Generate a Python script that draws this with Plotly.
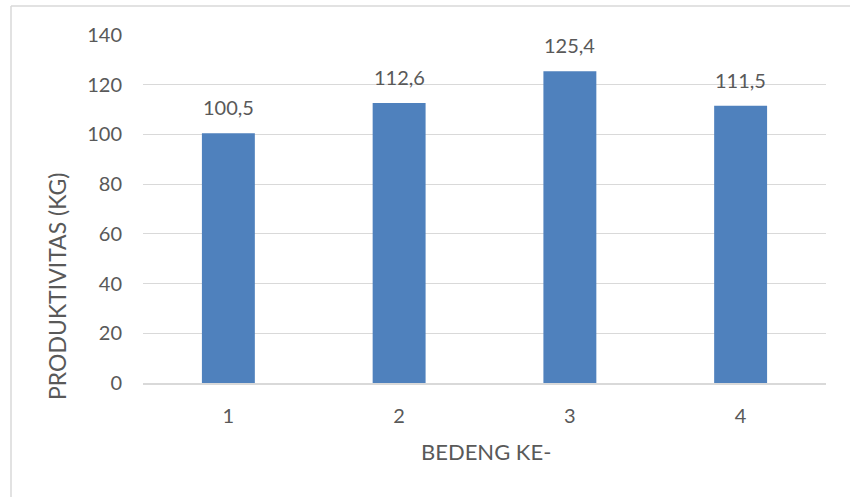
import plotly.graph_objects as go

categories = ["1", "2", "3", "4"]
values = [100.5, 112.6, 125.4, 111.5]
value_labels = ["100,5", "112,6", "125,4", "111,5"]
y_ticks = [0, 20, 40, 60, 80, 100, 120, 140]

FONT = "Lato"
TXT = "#595959"
GRID = "#d9d9d9"

fig = go.Figure()
fig.add_trace(go.Bar(x=categories, y=values, marker_color="#4f81bd",
                     marker_line_width=0, width=0.31))

for i, (v, t) in enumerate(zip(values, value_labels)):
    fig.add_annotation(x=i, y=v, text=t, showarrow=False, yanchor="bottom",
                       yshift=12, font=dict(family=FONT, size=20, color=TXT))

fig.add_annotation(xref="paper", yref="paper", x=(57 - 143) / 683, y=(383 - 287) / 348,
                   text="PRODUKTIVITAS (KG)", textangle=-90, showarrow=False,
                   xanchor="center", yanchor="middle",
                   font=dict(family=FONT, size=23, color=TXT))
fig.add_annotation(xref="paper", yref="paper", x=(486 - 143) / 683, y=(383 - 451) / 348,
                   text="BEDENG KE-", showarrow=False,
                   xanchor="center", yanchor="middle",
                   font=dict(family=FONT, size=22, color=TXT))

# chart border (left and top edges visible)
fig.add_shape(type="line", xref="paper", yref="paper",
              x0=(11 - 143) / 683, x1=(11 - 143) / 683, y0=1.0833, y1=-0.4,
              line=dict(color=GRID, width=1.5))
fig.add_shape(type="line", xref="paper", yref="paper",
              x0=(11 - 143) / 683, x1=1.1, y0=1.0833, y1=1.0833,
              line=dict(color=GRID, width=1.5))

fig.update_layout(
    width=850, height=497,
    margin=dict(l=143, r=24, t=35, b=114),
    plot_bgcolor="white", paper_bgcolor="white",
    showlegend=False,
    font=dict(family=FONT, size=20, color=TXT),
)
fig.update_xaxes(type="category", range=[-0.5, 3.5], showgrid=False, showline=True,
                 linecolor=GRID, linewidth=2, ticks="",
                 tickfont=dict(family=FONT, size=20, color=TXT), ticklabelstandoff=14)
fig.update_yaxes(range=[0, 140], tickvals=y_ticks, showgrid=True, gridcolor=GRID,
                 gridwidth=1, zeroline=False, showline=False, ticks="",
                 tickfont=dict(family=FONT, size=20, color=TXT), ticklabelstandoff=20)

fig.write_html("out.html", config={"displayModeBar": False},
               post_script="document.body.style.margin='0';document.body.style.overflow='hidden';")
